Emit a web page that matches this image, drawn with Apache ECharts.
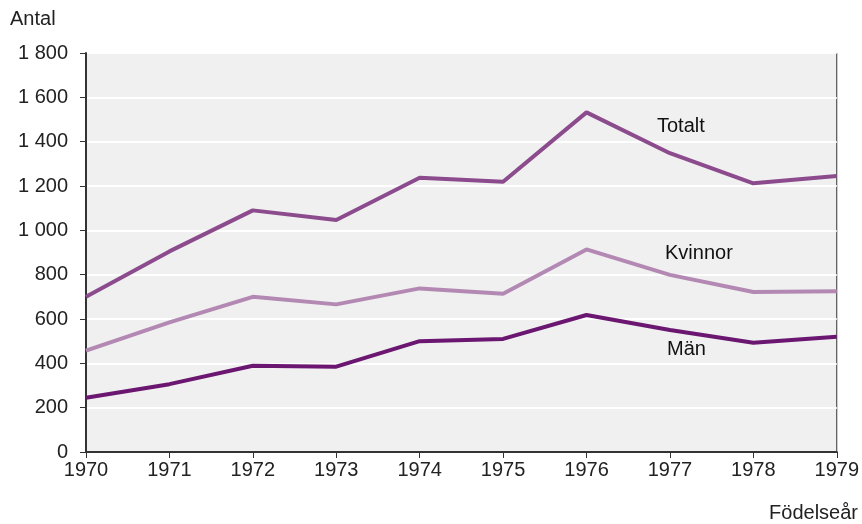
<!DOCTYPE html>
<html>
<head>
<meta charset="utf-8">
<script src="https://cdn.jsdelivr.net/npm/echarts@6/dist/echarts.min.js"></script>
<style>
  html, body { margin: 0; padding: 0; background: #fff; }
  #chart { width: 862px; height: 524px; }
</style>
</head>
<body>
<div id="chart"></div>
<script>
const years = ["1970", "1971", "1972", "1973", "1974", "1975", "1976", "1977", "1978", "1979"];
const totalt = [700, 905, 1090, 1047, 1237, 1219, 1532, 1348, 1212, 1245];
const kvinnor = [457, 585, 700, 666, 738, 714, 914, 799, 722, 725];
const man = [245, 306, 389, 385, 500, 510, 618, 550, 493, 520];

const font = "Liberation Sans, Arial, sans-serif";
const fmt = v => String(v).replace(/\B(?=(\d{3})+(?!\d))/g, " ");

const chart = echarts.init(document.getElementById("chart"));
chart.setOption({
    animation: false,
    textStyle: { fontFamily: font },
    grid: {
        left: 86, right: 25, top: 53, bottom: 72,
        show: true,
        backgroundColor: "#f0f0f0",
        borderColor: "#333",
        borderWidth: 1
    },
    xAxis: {
        type: "category",
        data: years,
        boundaryGap: false,
        axisLine: { lineStyle: { color: "#333", width: 2 } },
        axisTick: { length: 6, lineStyle: { color: "#333" } },
        axisLabel: { color: "#222", fontSize: 20, margin: 8 },
        splitLine: { show: false }
    },
    yAxis: {
        type: "value",
        min: 0, max: 1800, interval: 200,
        axisLine: { show: true, lineStyle: { color: "#333", width: 2 } },
        axisTick: { show: true, length: 6, lineStyle: { color: "#333" } },
        axisLabel: { color: "#222", fontSize: 20, margin: 18, formatter: fmt },
        splitLine: { lineStyle: { color: "#fff", width: 2 } }
    },
    series: [
        { name: "Totalt", type: "line", data: totalt, symbol: "none",
          lineStyle: { color: "#8b4b8c", width: 4 }, z: 3 },
        { name: "Kvinnor", type: "line", data: kvinnor, symbol: "none",
          lineStyle: { color: "#b389b4", width: 4 }, z: 2 },
        { name: "Män", type: "line", data: man, symbol: "none",
          lineStyle: { color: "#6b1670", width: 4 }, z: 4 }
    ],
    graphic: [
        { type: "text", left: 10, top: 9, style: { text: "Antal", font: "20px " + font, fill: "#222" } },
        { type: "text", right: 4, top: 503, style: { text: "Födelseår", font: "20px " + font, fill: "#222" } },
        { type: "text", left: 657, top: 116, style: { text: "Totalt", font: "20px " + font, fill: "#111" } },
        { type: "text", left: 665, top: 243, style: { text: "Kvinnor", font: "20px " + font, fill: "#111" } },
        { type: "text", left: 667, top: 339, style: { text: "Män", font: "20px " + font, fill: "#111" } }
    ]
});
</script>
</body>
</html>
